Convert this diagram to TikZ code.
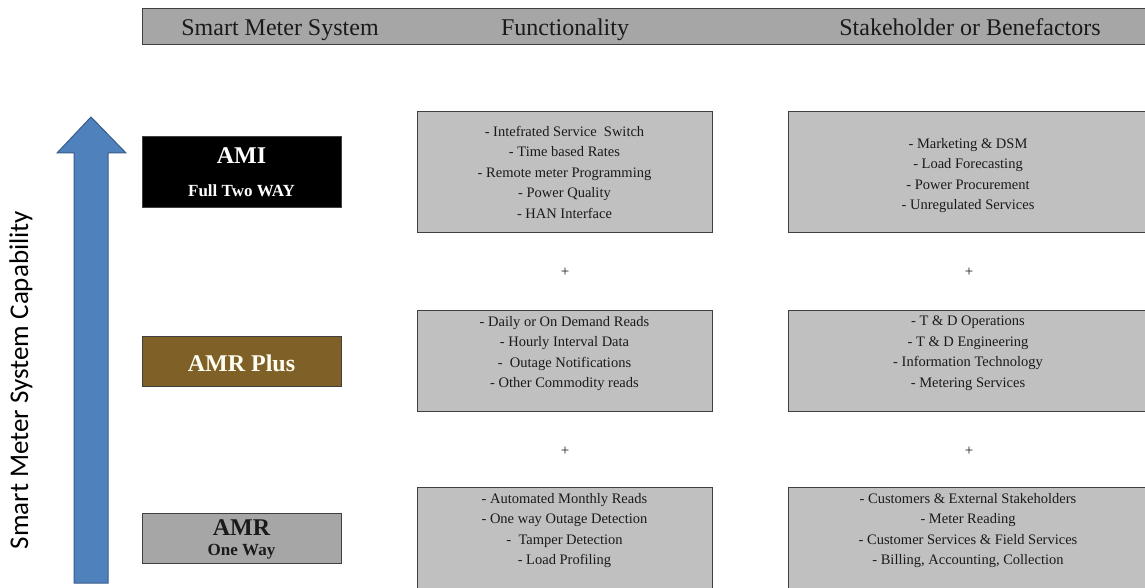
\documentclass[tikz,border=0pt]{standalone}
\usepackage{fontspec}
\setmainfont{Liberation Serif}
\newfontfamily\calib{Carlito}
\definecolor{hdrgray}{HTML}{A6A6A6}
\definecolor{boxgray}{HTML}{C0C0C0}
\definecolor{edgegray}{HTML}{404040}
\definecolor{brownbox}{HTML}{7F6128}
\definecolor{arrowblue}{HTML}{4F81BD}
\definecolor{arrowedge}{HTML}{385D8A}
\definecolor{txtdark}{HTML}{1A1A1A}
\begin{document}
\begin{tikzpicture}[x=1pt,y=-1pt,
  hdrtxt/.style={font=\fontsize{24}{27}\selectfont, text=txtdark, anchor=base, inner sep=0},
  infobox/.style={draw=edgegray, line width=1pt, fill=boxgray},
  sysbox/.style={draw=edgegray, line width=1pt, minimum width=199pt, minimum height=50pt, inner sep=0, align=center},
  listtxt/.style={font=\fontsize{14.5}{20.4}\selectfont, text=txtdark, align=center, inner sep=0, anchor=north},
  plustxt/.style={font=\fontsize{15}{16}\selectfont, text=txtdark, inner sep=0}
]
\useasboundingbox (0,0) rectangle (1145,588);
\clip (0,0) rectangle (1145,588);
\fill[white] (0,0) rectangle (1145,588);

% header bar
\node[draw=edgegray, line width=1pt, fill=hdrgray, minimum width=1020pt, minimum height=36pt, inner sep=0, anchor=north west] (hdr) at (142,8) {};
\node[hdrtxt] (h1) at (280,36) {Smart Meter System};
\node[hdrtxt] (h2) at (565,36) {Functionality};
\node[hdrtxt] (h3) at (970,36) {Stakeholder or Benefactors};

% capability arrow
\path[fill=arrowblue, draw=arrowedge, line width=1pt]
  (74,583) -- (74,153) -- (57,153) -- (91,117) -- (126,153) -- (108,153) -- (108,583) -- cycle;
\node[rotate=90, font=\calib\fontsize{27}{30}\selectfont, text=black, inner sep=0] (cap) at (21,380) {Smart Meter System Capability};

% system boxes
\node[sysbox, fill=black, minimum height=70pt] (ami) at (241.5,172) {};
\node[font=\bfseries\fontsize{24}{26}\selectfont, text=white, inner sep=0] (amit) at (241.5,156) {AMI};
\node[font=\bfseries\fontsize{17}{19}\selectfont, text=white, inner sep=0] (amis) at (241.5,191) {Full Two WAY};

\node[sysbox, fill=brownbox] (amrp) at (241.5,361) {};
\node[font=\bfseries\fontsize{24}{26}\selectfont, text=white!95!yellow, inner sep=0] (amrpt) at (241.5,363) {AMR Plus};

\node[sysbox, fill=hdrgray] (amr) at (241.5,538) {};
\node[font=\bfseries\fontsize{24}{26}\selectfont, text=txtdark, inner sep=0] (amrt) at (241.5,528) {AMR};
\node[font=\bfseries\fontsize{17}{19}\selectfont, text=txtdark, inner sep=0] (amrs) at (241.5,552) {One Way};

% functionality boxes
\draw[infobox] (417,112) rectangle (712,232);
\node[listtxt] (f1) at (564.5,126) {- Intefrated Service\ \ Switch\\- Time based Rates\\- Remote meter Programming\\- Power Quality\\- HAN Interface};
\draw[infobox] (417,310) rectangle (712,411);
\node[listtxt] (f2) at (564.5,316) {- Daily or On Demand Reads\\- Hourly Interval Data\\-\ \ Outage Notifications\\- Other Commodity reads};
\draw[infobox] (417,487) rectangle (712,600);
\node[listtxt] (f3) at (564.5,493) {- Automated Monthly Reads\\- One way Outage Detection\\-\ \ Tamper Detection\\- Load Profiling};

% stakeholder boxes
\draw[infobox] (788,112) rectangle (1160,232);
\node[listtxt] (s1) at (968,138) {- Marketing \& DSM\\- Load Forecasting\\- Power Procurement\\- Unregulated Services};
\draw[infobox] (788,310) rectangle (1160,411);
\node[listtxt] (s2) at (968,316) {- T \& D Operations\\- T \& D Engineering\\- Information Technology\\- Metering Services};
\draw[infobox] (788,487) rectangle (1160,600);
\node[listtxt] (s3) at (968,493) {- Customers \& External Stakeholders\\- Meter Reading\\- Customer Services \& Field Services\\- Billing, Accounting, Collection};

% plus signs
\node[plustxt] (p1) at (565,272) {+};
\node[plustxt] (p2) at (969,272) {+};
\node[plustxt] (p3) at (565,451) {+};
\node[plustxt] (p4) at (969,451) {+};
\end{tikzpicture}
\end{document}
